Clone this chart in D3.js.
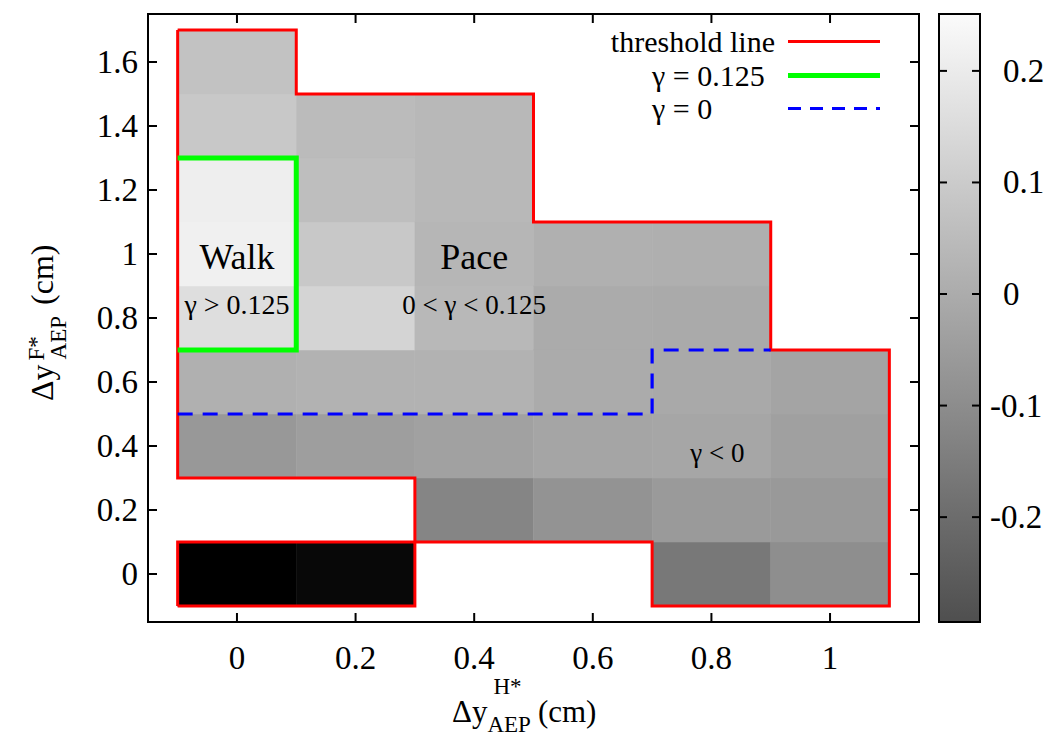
<!DOCTYPE html>
<html>
<head>
<meta charset="utf-8">
<script src="https://cdn.jsdelivr.net/npm/d3@7"></script>
<style>
  html, body { margin: 0; padding: 0; background: #fff; }
  svg { display: block; font-family: "Liberation Serif", "DejaVu Serif", serif; }
</style>
</head>
<body>
<svg id="chart" width="1057" height="738"></svg>
<script>
// ---------------- data ----------------
const xCats = [0, 0.2, 0.4, 0.6, 0.8, 1.0];
const yCats = [0, 0.2, 0.4, 0.6, 0.8, 1.0, 1.2, 1.4, 1.6];
// gamma values, one row per yCat (bottom to top), one column per xCat; null = no data
const gammaRows = [
  [-0.544, -0.519,   null,   null, -0.164, -0.094], // y = 0
  [  null,   null, -0.123, -0.079, -0.056, -0.060], // y = 0.2
  [-0.063, -0.044, -0.035, -0.022, -0.018, -0.037], // y = 0.4
  [ 0.013,  0.020,  0.020, -0.002, -0.009, -0.025], // y = 0.6
  [ 0.159,  0.127,  0.039, -0.002, -0.006,   null], // y = 0.8
  [ 0.215,  0.089,  0.032,  0.013,  0.010,   null], // y = 1.0
  [ 0.210,  0.058,  0.039,   null,   null,   null], // y = 1.2
  [ 0.089,  0.048,  0.039,   null,   null,   null], // y = 1.4
  [ 0.070,   null,   null,   null,   null,   null]  // y = 1.6
];
const xTicks = [0, 0.2, 0.4, 0.6, 0.8, 1];
const yTicks = [0, 0.2, 0.4, 0.6, 0.8, 1, 1.2, 1.4, 1.6];
const cbTicks = [-0.2, -0.1, 0, 0.1, 0.2];
const cbRange = [-0.294, 0.251];
// boundary lines in data units
const thresholdMain = [[-0.1,1.7],[0.1,1.7],[0.1,1.5],[0.5,1.5],[0.5,1.1],[0.9,1.1],[0.9,0.7],[1.1,0.7],
  [1.1,-0.1],[0.7,-0.1],[0.7,0.1],[0.3,0.1],[0.3,0.3],[-0.1,0.3],[-0.1,1.7]];
const thresholdLow = [[-0.1,-0.1],[0.3,-0.1],[0.3,0.1],[-0.1,0.1],[-0.1,-0.1]];
const gamma0125 = [[-0.1,1.3],[0.1,1.3],[0.1,0.7],[-0.1,0.7]];
const gamma0 = [[-0.1,0.5],[0.7,0.5],[0.7,0.7],[0.9,0.7]];
const legendLabels = ["threshold line", "γ = 0.125", "γ = 0"];

// ---------------- layout ----------------
const svg = d3.select("#chart");
const L = 148, R = 919, T = 14, B = 622;
const x = d3.scaleLinear().domain([-0.15, 1.15]).range([L, R]);
const y = d3.scaleLinear().domain([-0.15, 1.75]).range([B, T]);
const color = d3.scaleLinear().domain(cbRange).range(["#4f4f4f", "#fbfbfb"]);
const cellW = 0.2, cellH = 0.2;
const FS = 33;

// cells
const cells = [];
gammaRows.forEach((row, i) => row.forEach((v, j) => {
  if (v !== null) cells.push({x: xCats[j], y: yCats[i], v});
}));
svg.append("g").selectAll("rect").data(cells).join("rect")
  .attr("x", d => x(d.x - cellW/2))
  .attr("y", d => y(d.y + cellH/2))
  .attr("width", d => x(d.x + cellW/2) - x(d.x - cellW/2))
  .attr("height", d => y(d.y - cellH/2) - y(d.y + cellH/2))
  .attr("fill", d => color(d.v))
  .attr("stroke", d => color(d.v)).attr("stroke-width", 0.5);

const line = d3.line().x(d => x(d[0])).y(d => y(d[1]));
svg.append("path").attr("d", line(thresholdMain)).attr("fill", "none")
  .attr("stroke", "#ff0000").attr("stroke-width", 3).attr("stroke-linejoin", "miter");
svg.append("path").attr("d", line(thresholdLow)).attr("fill", "none")
  .attr("stroke", "#ff0000").attr("stroke-width", 3);
svg.append("path").attr("d", line(gamma0125)).attr("fill", "none")
  .attr("stroke", "#00ff00").attr("stroke-width", 5);
svg.append("path").attr("d", line(gamma0)).attr("fill", "none")
  .attr("stroke", "#0000ff").attr("stroke-width", 3.2).attr("stroke-dasharray", "15,10");

// frame + ticks
const tickLen = 9;
const ax = svg.append("g").attr("stroke", "#000").attr("stroke-width", 2);
ax.append("rect").attr("x", L).attr("y", T).attr("width", R - L).attr("height", B - T).attr("fill", "none");
xTicks.forEach(t => {
  ax.append("line").attr("x1", x(t)).attr("x2", x(t)).attr("y1", B).attr("y2", B - tickLen);
  ax.append("line").attr("x1", x(t)).attr("x2", x(t)).attr("y1", T).attr("y2", T + tickLen);
});
yTicks.forEach(t => {
  ax.append("line").attr("x1", L).attr("x2", L + tickLen).attr("y1", y(t)).attr("y2", y(t));
  ax.append("line").attr("x1", R).attr("x2", R - tickLen).attr("y1", y(t)).attr("y2", y(t));
});
const fmt = d => String(+d.toFixed(1));
svg.append("g").selectAll("text").data(xTicks).join("text")
  .attr("x", d => x(d)).attr("y", 669).attr("text-anchor", "middle")
  .attr("font-size", FS).text(fmt);
svg.append("g").selectAll("text").data(yTicks).join("text")
  .attr("x", 138).attr("y", d => y(d) + 11).attr("text-anchor", "end")
  .attr("font-size", FS).text(fmt);

// axis titles (main text, superscript and subscript stacked, then unit)
function richTitle(g, o) {
  const t1 = g.append("text").attr("font-size", o.fs).attr("x", 0).attr("y", 0).text(o.main);
  const w1 = t1.node().getComputedTextLength();
  g.append("text").attr("font-size", o.sfs).attr("x", w1 + o.supDx).attr("y", o.supDy).text(o.sup);
  const tb = g.append("text").attr("font-size", o.sfs).attr("x", w1 + o.subDx).attr("y", o.subDy).text(o.sub);
  const wsub = tb.node().getComputedTextLength();
  g.append("text").attr("font-size", o.fs).attr("x", w1 + o.subDx + wsub + o.gap).attr("y", 0).text(o.tail);
}
const gx = svg.append("g").attr("transform", "translate(452,722)");
richTitle(gx, {main: "Δy", sup: "H*", sub: "AEP", tail: "(cm)", fs: 31, sfs: 23,
  supDx: 6, supDy: -28, subDx: 0, subDy: 10, gap: 7});
const gy = svg.append("g").attr("transform", "translate(53,401) rotate(-90)");
richTitle(gy, {main: "Δy", sup: "F*", sub: "AEP", tail: "(cm)", fs: 32, sfs: 23,
  supDx: 4, supDy: -9, subDx: 5, subDy: 13, gap: 11});

// annotations
const ann = [
  {t: "Walk", x: 0, y: 269, fs: 36},
  {t: "Pace", x: 0.4, y: 269, fs: 36},
  {t: "γ > 0.125", x: 0, y: 314, fs: 28},
  {t: "0 < γ < 0.125", x: 0.4, y: 314, fs: 27},
  {t: "γ < 0", x: 0.81, y: 462, fs: 27}
];
svg.append("g").selectAll("text").data(ann).join("text")
  .attr("x", d => x(d.x)).attr("y", d => d.y).attr("text-anchor", "middle")
  .attr("font-size", d => d.fs).text(d => d.t);

// legend
const leg = svg.append("g");
const legStyles = [
  {c: "#ff0000", w: 3, dash: null, ly: 41.5, tx: 775, anchor: "end"},
  {c: "#00ff00", w: 5, dash: null, ly: 75.5, tx: 652, anchor: "start"},
  {c: "#0000ff", w: 3.2, dash: "13,9", ly: 108.5, tx: 652, anchor: "start"}
];
legendLabels.forEach((lab, i) => {
  const s = legStyles[i];
  leg.append("text").attr("x", s.tx).attr("y", s.ly + 10).attr("text-anchor", s.anchor)
    .attr("font-size", 30).text(lab);
  const l = leg.append("line").attr("x1", 788).attr("x2", 880).attr("y1", s.ly).attr("y2", s.ly)
    .attr("stroke", s.c).attr("stroke-width", s.w);
  if (s.dash) l.attr("stroke-dasharray", s.dash);
});

// colorbar
const CBL = 939, CBR = 980;
const cbY = d3.scaleLinear().domain(cbRange).range([B, T]);
const grad = svg.append("defs").append("linearGradient").attr("id", "cbgrad")
  .attr("x1", 0).attr("x2", 0).attr("y1", 1).attr("y2", 0);
d3.range(0, 1.0001, 0.1).forEach(f => {
  const v = cbRange[0] + f * (cbRange[1] - cbRange[0]);
  grad.append("stop").attr("offset", f).attr("stop-color", color(v));
});
svg.append("rect").attr("x", CBL).attr("y", T).attr("width", CBR - CBL).attr("height", B - T)
  .attr("fill", "url(#cbgrad)").attr("stroke", "#000").attr("stroke-width", 2);
const cbt = svg.append("g").attr("stroke", "#000").attr("stroke-width", 2);
cbTicks.forEach(t => {
  cbt.append("line").attr("x1", CBL).attr("x2", CBL + 8).attr("y1", cbY(t)).attr("y2", cbY(t));
  cbt.append("line").attr("x1", CBR).attr("x2", CBR - 8).attr("y1", cbY(t)).attr("y2", cbY(t));
});
svg.append("g").selectAll("text").data(cbTicks).join("text")
  .attr("x", d => d < 0 ? 990 : 1003).attr("y", d => cbY(d) + 11)
  .attr("font-size", FS).text(fmt);
</script>
</body>
</html>
